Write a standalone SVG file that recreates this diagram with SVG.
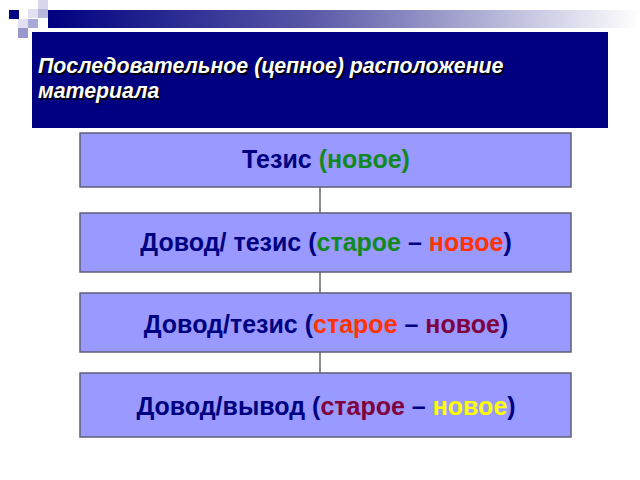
<svg xmlns="http://www.w3.org/2000/svg" width="640" height="480" viewBox="0 0 640 480">
<style>
.box{fill:#9999ff;stroke:#5f5f7a;stroke-width:1.5}
.t{font-family:"Liberation Sans",Arial,sans-serif;font-weight:bold;font-size:25px;fill:#000080;text-anchor:middle}
.title{font-family:"Liberation Sans",Arial,sans-serif;font-weight:bold;font-style:italic;font-size:21.3px;fill:#ffffff}
.shadow{fill:#000000}
.conn{stroke:#666666;stroke-width:1.5;fill:none}
</style>
<defs>
<linearGradient id="bar" x1="0" y1="0" x2="1" y2="0">
<stop offset="0" stop-color="#000080"/>
<stop offset="0.45" stop-color="#5a5aa8"/>
<stop offset="1" stop-color="#ffffff"/>
</linearGradient>
</defs>
<rect width="640" height="480" fill="#ffffff"/>
<g id="decor">
<rect x="48" y="10" width="592" height="18" fill="url(#bar)"/>
<rect x="38" y="0" width="10" height="9" fill="#d8d8ec"/>
<rect x="9" y="10" width="10" height="9" fill="#000080"/>
<rect x="28" y="9" width="10" height="9" fill="#e0e0f0"/>
<rect x="38" y="9" width="10" height="9" fill="#b8b8dc"/>
<rect x="18" y="19" width="10" height="9" fill="#e0e0f0"/>
<rect x="28" y="19" width="10" height="9" fill="#a8a8d4"/>
<rect x="18" y="28" width="10" height="10" fill="#9898cc"/>
</g>
<g id="title">
<rect x="32" y="32" width="576" height="96" fill="#000080"/>
<text class="title shadow" x="39.5" y="74.5">Последовательное (цепное) расположение</text>
<text class="title shadow" x="39.5" y="99.5">материала</text>
<text class="title" x="38" y="73">Последовательное (цепное) расположение</text>
<text class="title" x="38" y="98">материала</text>
</g>
<g id="connectors">
<line class="conn" x1="320" y1="187" x2="320" y2="213"/>
<line class="conn" x1="320" y1="272" x2="320" y2="293"/>
<line class="conn" x1="320" y1="352" x2="320" y2="373"/>
</g>
<g id="node1">
<rect class="box" x="80" y="133" width="491" height="54"/>
<text class="t" x="326" y="168">Тезис <tspan fill="#108a20">(новое)</tspan></text>
</g>
<g id="node2">
<rect class="box" x="80" y="213" width="491" height="59"/>
<text class="t" x="326" y="251">Довод/ тезис (<tspan fill="#108a20">старое</tspan> – <tspan fill="#ff3300">новое</tspan>)</text>
</g>
<g id="node3">
<rect class="box" x="80" y="293" width="491" height="59"/>
<text class="t" x="326" y="333">Довод/тезис (<tspan fill="#ff3300">старое</tspan> – <tspan fill="#800040">новое</tspan>)</text>
</g>
<g id="node4">
<rect class="box" x="80" y="373" width="491" height="64"/>
<text class="t" x="326" y="415">Довод/вывод (<tspan fill="#800040">старое</tspan> – <tspan fill="#ffff00">новое</tspan>)</text>
</g>
</svg>
